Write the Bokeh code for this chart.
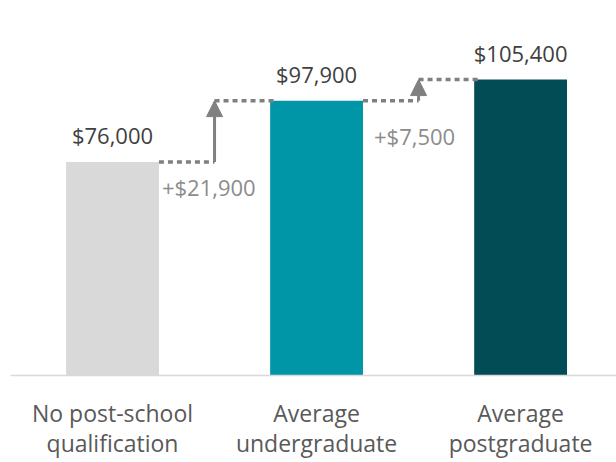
from bokeh.plotting import figure
from bokeh.models import Range1d, FixedTicker, Arrow, NormalHead
from bokeh.core.properties import value
from bokeh.embed import file_html
from bokeh.resources import INLINE

categories = ["No post-school\nqualification", "Average\nundergraduate", "Average\npostgraduate"]
salaries = [76000, 97900, 105400]
value_labels = ["$76,000", "$97,900", "$105,400"]
increment_labels = ["+$21,900", "+$7,500"]
bar_colors = ["#d9d9d9", "#0096a8", "#024c56"]

FONT = "Open Sans"
GREY = "#808080"
xs = list(range(len(categories)))
hw = 0.455 / 2

p = figure(width=616, height=462, output_backend="svg", toolbar_location=None,
           x_range=Range1d(-0.5, 2.47), y_range=Range1d(0, 130000),
           min_border_left=10, min_border_right=0, min_border_top=10, min_border_bottom=84)
p.outline_line_color = None
p.xgrid.visible = False
p.ygrid.visible = False
p.yaxis.visible = False

p.vbar(x=xs, top=salaries, bottom=0, width=0.455, fill_color=bar_colors, line_color=None)

p.text(x=xs, y=salaries, text=value_labels, text_align="center", text_baseline="middle",
       y_offset=-27, text_font=value(FONT), text_font_size="22px", text_color="#404040")

inc_x_off = [3, 11]
inc_y_off = [25, 35]
for i in range(len(salaries) - 1):
    xm = i + 0.5
    p.line([i + hw, xm], [salaries[i], salaries[i]], line_color=GREY, line_width=3.5, line_dash="5 4")
    p.line([xm, i + 1 - hw + 0.03], [salaries[i + 1], salaries[i + 1]], line_color=GREY, line_width=3.5, line_dash="5 4")
    p.add_layout(Arrow(x_start=xm, y_start=salaries[i], x_end=xm, y_end=salaries[i + 1],
                       line_color=GREY, line_width=3,
                       end=NormalHead(size=16, fill_color=GREY, line_color=GREY)))
    p.text(x=[i + hw], y=[salaries[i]], text=[increment_labels[i]], text_align="left",
           text_baseline="middle", x_offset=inc_x_off[i], y_offset=inc_y_off[i],
           text_font=value(FONT), text_font_size="22px", text_color="#8c8c8c")

p.xaxis.ticker = FixedTicker(ticks=xs)
p.xaxis.major_label_overrides = {i: c for i, c in zip(xs, categories)}
p.xaxis.axis_line_color = "#d9d9d9"
p.xaxis.axis_line_width = 1.5
p.xaxis.major_tick_line_color = None
p.xaxis.minor_tick_line_color = None
p.xaxis.major_label_standoff = 15
p.xaxis.major_label_text_font = FONT
p.xaxis.major_label_text_font_size = "23px"
p.xaxis.major_label_text_line_height = 0.96
p.xaxis.major_label_text_color = "#595959"

open("out.html", "w").write(file_html(p, INLINE))
